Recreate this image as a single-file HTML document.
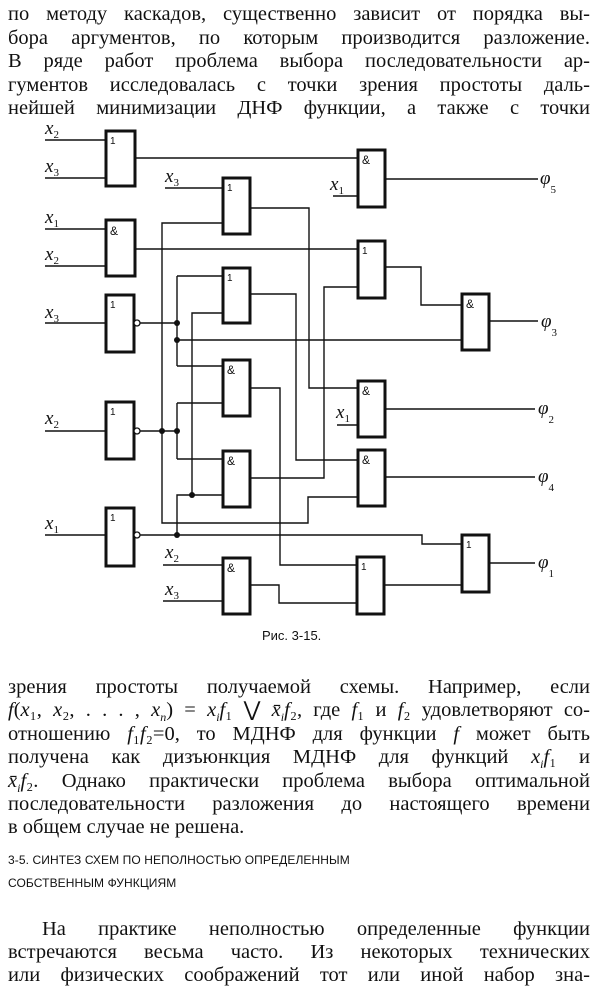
<!DOCTYPE html>
<html><head><meta charset="utf-8"><style>
html,body{margin:0;padding:0;background:#fff;}
body{width:600px;height:988px;position:relative;overflow:hidden;color:#111;}
.l{position:absolute;left:8px;width:582px;font-family:"Liberation Serif",serif;font-size:20.5px;line-height:22px;white-space:nowrap;text-align:justify;text-align-last:justify;}
.n{text-align-last:left;}
.h{position:absolute;left:8px;font-family:"Liberation Sans",sans-serif;font-size:12px;letter-spacing:0.1px;}
i{font-style:italic;}
svg{position:absolute;left:0;top:0;}
</style></head><body>
<div class="l" style="top:3px">по методу каскадов, существенно зависит от порядка вы-</div>
<div class="l" style="top:27px">бора аргументов, по которым производится разложение.</div>
<div class="l" style="top:50px">В ряде работ проблема выбора последовательности ар-</div>
<div class="l" style="top:74px">гументов исследовалась с точки зрения простоты даль-</div>
<div class="l" style="top:97px">нейшей минимизации ДНФ функции, а также с точки</div>

<svg width="600" height="660" viewBox="0 0 600 660">
<g fill="none" stroke="#111" stroke-width="1.4">
<path d="M45 140H106M45 178H106M45 229H106M45 266H106M45 323H106M45 431H106M45 535H106"/>
<path d="M135 158H358"/>
<path d="M165 188H223"/>
<path d="M223 223H162V523H308V497H358"/>
<path d="M250 208H309V388H358"/>
<path d="M135 249H358"/>
<path d="M140 323H177M177 276V366M177 276H223M177 340H462M177 366H223"/>
<path d="M223 313H192V495"/>
<path d="M250 294H296V460H358"/>
<path d="M250 478H324V287H358"/>
<path d="M250 388H280V565H357"/>
<path d="M140 431H177M177 403V459M177 403H223M177 459H223"/>
<path d="M140 535H422V544H462M177 535V495H223"/>
<path d="M163 565H223M163 601H223M250 585H279V603H357"/>
<path d="M333 196H358M385 179H538"/>
<path d="M385 267H421V305H462M489 321H538"/>
<path d="M337 425H358M385 409H535"/>
<path d="M385 477H535"/>
<path d="M384 585H462M489 563H535"/>
</g>
<g fill="#fff" stroke="#111" stroke-width="3">
<rect x="106" y="131" width="29" height="55"/>
<rect x="106" y="220" width="29" height="56"/>
<rect x="106" y="295" width="28" height="57"/>
<rect x="106" y="402" width="28" height="57"/>
<rect x="106" y="508" width="28" height="58"/>
<rect x="223" y="178" width="27" height="56"/>
<rect x="223" y="268" width="27" height="55"/>
<rect x="223" y="360" width="27" height="56"/>
<rect x="223" y="451" width="27" height="56"/>
<rect x="223" y="558" width="27" height="56"/>
<rect x="358" y="150" width="27" height="57"/>
<rect x="358" y="241" width="27" height="57"/>
<rect x="462" y="294" width="27" height="56"/>
<rect x="358" y="381" width="27" height="56"/>
<rect x="358" y="450" width="27" height="56"/>
<rect x="462" y="535" width="27" height="57"/>
<rect x="357" y="557" width="27" height="57"/>
</g>
<g fill="#fff" stroke="#111" stroke-width="1.3">
<circle cx="137" cy="323" r="3"/><circle cx="137" cy="431" r="3"/><circle cx="137" cy="535" r="3"/>
</g>
<g fill="#111">
<circle cx="177" cy="323" r="3"/><circle cx="177" cy="340" r="3"/>
<circle cx="162" cy="431" r="3"/><circle cx="177" cy="431" r="3"/>
<circle cx="192" cy="495" r="3"/><circle cx="177" cy="535" r="3"/>
</g>
<g font-family="Liberation Sans,sans-serif" font-size="10" fill="#111">
<text x="110" y="144">1</text><text x="110" y="235" font-size="12">&amp;</text>
<text x="110" y="308">1</text><text x="110" y="415">1</text><text x="110" y="521">1</text>
<text x="227" y="191">1</text><text x="227" y="281">1</text>
<text x="227" y="374" font-size="12">&amp;</text><text x="227" y="465" font-size="12">&amp;</text><text x="227" y="572" font-size="12">&amp;</text>
<text x="362" y="164" font-size="12">&amp;</text><text x="362" y="254">1</text>
<text x="466" y="308" font-size="12">&amp;</text><text x="362" y="395" font-size="12">&amp;</text>
<text x="362" y="464" font-size="12">&amp;</text><text x="466" y="548">1</text><text x="361" y="570">1</text>
</g>
<g font-family="Liberation Serif,serif" font-style="italic" font-size="19" fill="#111">
<text x="45" y="134">x<tspan font-size="11" font-style="normal" dy="4">2</tspan></text>
<text x="45" y="172">x<tspan font-size="11" font-style="normal" dy="4">3</tspan></text>
<text x="45" y="223">x<tspan font-size="11" font-style="normal" dy="4">1</tspan></text>
<text x="45" y="260">x<tspan font-size="11" font-style="normal" dy="4">2</tspan></text>
<text x="45" y="318">x<tspan font-size="11" font-style="normal" dy="4">3</tspan></text>
<text x="45" y="424">x<tspan font-size="11" font-style="normal" dy="4">2</tspan></text>
<text x="45" y="529">x<tspan font-size="11" font-style="normal" dy="4">1</tspan></text>
<text x="165" y="182">x<tspan font-size="11" font-style="normal" dy="4">3</tspan></text>
<text x="165" y="558">x<tspan font-size="11" font-style="normal" dy="4">2</tspan></text>
<text x="165" y="595">x<tspan font-size="11" font-style="normal" dy="4">3</tspan></text>
<text x="330" y="190">x<tspan font-size="11" font-style="normal" dy="4">1</tspan></text>
<text x="336" y="418">x<tspan font-size="11" font-style="normal" dy="4">1</tspan></text>
<text x="540" y="184">φ<tspan font-size="11" font-style="normal" dy="9">5</tspan></text>
<text x="541" y="327">φ<tspan font-size="11" font-style="normal" dy="9">3</tspan></text>
<text x="538" y="414">φ<tspan font-size="11" font-style="normal" dy="9">2</tspan></text>
<text x="538" y="482">φ<tspan font-size="11" font-style="normal" dy="9">4</tspan></text>
<text x="538" y="568">φ<tspan font-size="11" font-style="normal" dy="9">1</tspan></text>
</g>
<text x="262" y="640" font-family="Liberation Sans,sans-serif" font-size="13" fill="#111">Рис. 3-15.</text>
</svg>

<div class="l" style="top:676px">зрения простоты получаемой схемы. Например, если</div>
<div class="l" style="top:699px"><i>f</i>(<i>x</i>₁, <i>x</i>₂, . . . , <i>x<sub style="font-size:12px">n</sub></i>) = <i>x<sub style="font-size:12px">i</sub>f</i>₁ ⋁ <i>x̄<sub style="font-size:12px">i</sub>f</i>₂, где <i>f</i>₁ и <i>f</i>₂ удовлетворяют со-</div>
<div class="l" style="top:723px">отношению <i>f</i>₁<i>f</i>₂=0, то МДНФ для функции <i>f</i> может быть</div>
<div class="l" style="top:746px">получена как дизъюнкция МДНФ для функций <i>x<sub style="font-size:12px">i</sub>f</i>₁ и</div>
<div class="l" style="top:770px"><i>x̄<sub style="font-size:12px">i</sub>f</i>₂. Однако практически проблема выбора оптимальной</div>
<div class="l" style="top:793px">последовательности разложения до настоящего времени</div>
<div class="l n" style="top:816px">в общем случае не решена.</div>

<div class="h" style="top:853px">3-5. СИНТЕЗ СХЕМ ПО НЕПОЛНОСТЬЮ ОПРЕДЕЛЕННЫМ</div>
<div class="h" style="top:876px">СОБСТВЕННЫМ ФУНКЦИЯМ</div>

<div class="l" style="top:918px;left:42px;width:548px">На практике неполностью определенные функции</div>
<div class="l" style="top:941px">встречаются весьма часто. Из некоторых технических</div>
<div class="l" style="top:964px">или физических соображений тот или иной набор зна-</div>
</body></html>
